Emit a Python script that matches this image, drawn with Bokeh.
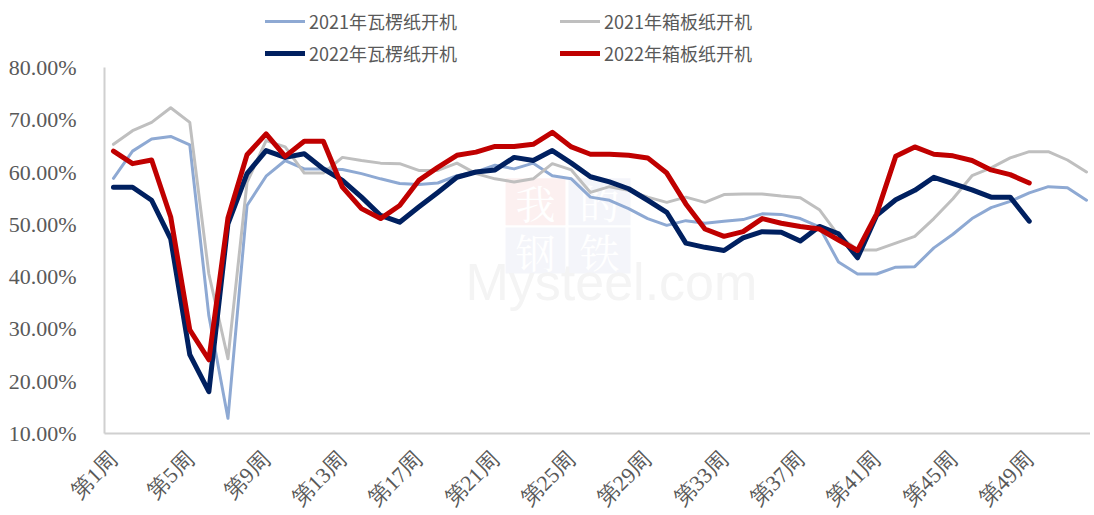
import math
from bokeh.plotting import figure
from bokeh.models import (Range1d, FixedTicker, PrintfTickFormatter, Legend, LegendItem,
                          Label, BoxAnnotation)
from bokeh.embed import file_html
from bokeh.resources import INLINE

# ---------------- data ----------------
weeks_2021 = list(range(1, 53))
weeks_2022 = list(range(1, 50))

tick_weeks = [1, 5, 9, 13, 17, 21, 25, 29, 33, 37, 41, 45, 49]
tick_labels = ["第1周", "第5周", "第9周", "第13周", "第17周", "第21周", "第25周",
               "第29周", "第33周", "第37周", "第41周", "第45周", "第49周"]

y_ticks = [10, 20, 30, 40, 50, 60, 70, 80]

series_names = ["2021年瓦楞纸开机", "2021年箱板纸开机", "2022年瓦楞纸开机", "2022年箱板纸开机"]

corr_2021 = [58.8, 64.0, 66.3, 66.8, 65.2, 32.5, 12.9, 53.6, 59.2, 62.2,
             60.6, 60.6, 60.5, 59.7, 58.7, 57.8, 57.6, 57.9, 59.3, 60.0,
             61.3, 60.6, 61.7, 59.3, 58.7, 55.2, 54.6, 53.0, 51.1, 49.8,
             50.7, 50.2, 50.6, 50.9, 52.0, 51.9, 51.1, 49.5, 42.8, 40.5,
             40.5, 41.8, 41.9, 45.5, 48.1, 51.1, 53.2, 54.4, 56.0, 57.2,
             57.0, 54.6]

board_2021 = [65.3, 67.9, 69.5, 72.3, 69.5, 40.5, 24.3, 58.0, 66.0, 64.8,
              59.8, 59.8, 62.8, 62.2, 61.7, 61.6, 60.3, 60.3, 61.7, 59.7,
              58.7, 58.1, 58.7, 61.6, 60.4, 56.1, 57.2, 56.5, 55.2, 54.2,
              55.2, 54.2, 55.7, 55.8, 55.8, 55.4, 55.1, 52.8, 47.9, 45.1,
              45.1, 46.4, 47.7, 51.1, 54.9, 59.3, 60.8, 62.7, 63.9, 63.9,
              62.3, 60.0]

corr_2022 = [57.1, 57.1, 54.6, 47.2, 25.1, 18.0, 50.1, 59.7, 64.1, 62.8,
             63.5, 60.6, 58.4, 55.2, 51.7, 50.4, 53.3, 56.1, 59.0, 60.0,
             60.4, 62.8, 62.2, 64.1, 61.7, 59.1, 58.1, 56.8, 54.6, 52.3,
             46.4, 45.6, 45.0, 47.4, 48.6, 48.5, 46.8, 49.6, 48.2, 43.6,
             51.7, 54.7, 56.5, 59.0, 57.8, 56.6, 55.2, 55.2, 50.6]

board_2022 = [64.0, 61.6, 62.3, 51.4, 29.8, 24.1, 51.2, 63.3, 67.3, 63.0,
              65.9, 65.9, 57.1, 53.0, 51.1, 53.6, 58.4, 60.9, 63.2, 63.8,
              64.9, 64.9, 65.3, 67.6, 64.8, 63.4, 63.4, 63.2, 62.7, 59.8,
              53.9, 49.1, 47.7, 48.6, 51.1, 50.2, 49.6, 49.1, 47.0, 45.0,
              52.0, 63.0, 64.8, 63.4, 63.1, 62.2, 60.4, 59.5, 57.9]

colors = ["#8EA9D3", "#BFBFBF", "#002060", "#C00000"]
widths = [3, 3, 5, 5]

SERIF = "'Liberation Serif', 'Times New Roman', serif"

# ---------------- figure ----------------
p = figure(frame_width=986, frame_height=433, output_backend="svg", toolbar_location=None,
           x_range=Range1d(0.53, 52.21), y_range=Range1d(10, 92.8),
           min_border_left=104, min_border_right=0, min_border_top=0,
           min_border_bottom=60)
p.outline_line_color = None
p.grid.visible = False
p.background_fill_color = "white"
p.border_fill_color = "white"

# watermark (faint)
for l, r, b, t, c in [(21.55, 24.69, 49.8, 58.8, "#fcf0f0"), (24.85, 28.1, 49.8, 58.8, "#f4f5fa"),
                      (21.55, 24.69, 40.6, 49.4, "#f4f5fa"), (24.85, 28.1, 40.6, 49.4, "#f4f5fa")]:
    p.add_layout(BoxAnnotation(left=l, right=r, bottom=b, top=t, fill_color=c,
                               fill_alpha=1, line_alpha=0, level="underlay"))
for txt, xx, yy in [("我", 23.12, 54.3), ("的", 26.47, 54.3), ("钢", 23.12, 45.0), ("铁", 26.47, 45.0)]:
    p.add_layout(Label(x=xx, y=yy, text=txt, text_align="center", text_baseline="middle",
                       text_color="white", text_font_size="40px",
                       text_font="Noto Serif CJK SC", level="underlay"))
p.add_layout(Label(x=19.45, y=38.9, text="Mysteel.com", text_color="#f4f4f4",
                   text_baseline="alphabetic",
                   text_font_size="52px", text_font="Liberation Sans", level="underlay"))

# lines
r_list = []
for xs, ys, c, w in [(weeks_2021, corr_2021, colors[0], widths[0]),
                     (weeks_2021, board_2021, colors[1], widths[1]),
                     (weeks_2022, corr_2022, colors[2], widths[2]),
                     (weeks_2022, board_2022, colors[3], widths[3])]:
    r = p.line(xs, ys, line_color=c, line_width=w, line_join="round", line_cap="round")
    r_list.append(r)

# axes
p.yaxis.ticker = FixedTicker(ticks=y_ticks)
p.yaxis.formatter = PrintfTickFormatter(format="%.2f%%")
p.yaxis.bounds = (10, 80)
p.yaxis.axis_line_color = "#D0D0D0"
p.yaxis.axis_line_width = 2
p.yaxis.major_tick_line_color = None
p.yaxis.minor_tick_line_color = None
p.yaxis.major_label_text_font = SERIF
p.yaxis.major_label_text_font_size = "22px"
p.yaxis.major_label_text_color = "#595959"
p.yaxis.major_label_standoff = 22

p.xaxis.ticker = FixedTicker(ticks=tick_weeks)
p.xaxis.major_label_overrides = {w: l for w, l in zip(tick_weeks, tick_labels)}
p.xaxis.axis_line_color = "#D0D0D0"
p.xaxis.axis_line_width = 2
p.xaxis.major_tick_line_color = None
p.xaxis.minor_tick_line_color = None
p.xaxis.major_label_orientation = math.pi / 4
p.xaxis.major_label_text_font = SERIF
p.xaxis.major_label_text_font_size = "22px"
p.xaxis.major_label_text_color = "#595959"
p.xaxis.major_label_standoff = 16

# legends (two rows)
common = dict(orientation="horizontal", spacing=103, glyph_width=40, glyph_height=20,
              label_height=20, label_standoff=4, padding=0, margin=0,
              border_line_alpha=0, background_fill_alpha=0,
              label_text_font="Noto Sans CJK SC", label_text_font_size="18px",
              label_text_color="#595959")
leg1 = Legend(items=[LegendItem(label=series_names[0], renderers=[r_list[0]]),
                     LegendItem(label=series_names[1], renderers=[r_list[1]])],
              location=(161, 399), **common)
leg2 = Legend(items=[LegendItem(label=series_names[2], renderers=[r_list[2]]),
                     LegendItem(label=series_names[3], renderers=[r_list[3]])],
              location=(161, 367), **common)
p.add_layout(leg1)
p.add_layout(leg2)

open("out.html", "w").write(file_html(p, INLINE))
